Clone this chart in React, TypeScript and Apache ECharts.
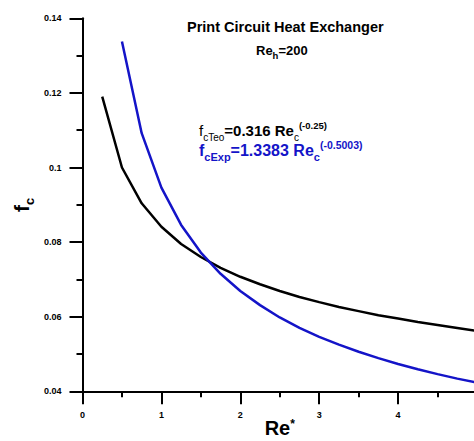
import React, { useEffect, useRef } from "react";
import * as echarts from "echarts";

const theoX = [0.25, 0.5, 0.75, 1, 1.25, 1.5, 1.75, 2, 2.25, 2.5, 2.75, 3, 3.25, 3.5, 3.75, 4, 4.25, 4.5, 4.75, 5];
const theoY = [0.119, 0.1, 0.0904, 0.0841, 0.0795, 0.076, 0.0731, 0.0707, 0.0687, 0.0669, 0.0653, 0.0639, 0.0626, 0.0615, 0.0604, 0.0595, 0.0586, 0.0578, 0.057, 0.0562];
const expX = [0.5, 0.75, 1, 1.25, 1.5, 1.75, 2, 2.25, 2.5, 2.75, 3, 3.25, 3.5, 3.75, 4, 4.25, 4.5, 4.75, 5];
const expY = [0.1338, 0.1092, 0.0946, 0.0846, 0.0772, 0.0715, 0.0669, 0.0631, 0.0598, 0.057, 0.0546, 0.0525, 0.0506, 0.0489, 0.0473, 0.0459, 0.0446, 0.0434, 0.0423];

const FONT = "Liberation Sans, Arial, sans-serif";
const BLUE = "#1414c8";

export default function App() {
  const ref = useRef<HTMLDivElement>(null);
  useEffect(() => {
    document.body.style.margin = "0";
    const chart = echarts.init(ref.current!, null, { renderer: "svg" });
    const mk = () => ({
      axisLine: { show: true, onZero: false, lineStyle: { color: "#000", width: 2 } },
      axisTick: { show: true, length: 13, lineStyle: { color: "#000", width: 2 } },
      minorTick: { show: true, splitNumber: 2, length: 6, lineStyle: { color: "#000", width: 2 } },
      splitLine: { show: false },
      minorSplitLine: { show: false },
    });
    const t = (fs: number, fill: string, bold: boolean, extra: any = {}) => ({
      fontSize: fs, fill, color: fill, fontWeight: bold ? "bold" : "normal", fontFamily: FONT, verticalAlign: "bottom", ...extra,
    });
    chart.setOption({
      animation: false,
      textStyle: { fontFamily: FONT },
      title: [
        {
          text: "Print Circuit Heat Exchanger",
          left: 187,
          top: 19.5,
          padding: 0,
          textStyle: { fontSize: 14.5, fontWeight: "bold", color: "#000", fontFamily: FONT },
        },
        {
          text: "{a|Re}{s|h}{a|=200}",
          left: 256,
          top: 44,
          padding: 0,
          textStyle: {
            rich: { a: t(13, "#000", true), s: t(9.5, "#000", true, { padding: [0, 0, -3, 0] }) },
          },
        },
        {
          text: "{f|f}{s|cTeo}{a|=0.316 Re}{s|c}{p|(-0.25)}",
          left: 199,
          top: 120,
          padding: 0,
          textStyle: {
            rich: {
              f: t(15, "#000", false),
              a: t(15, "#000", true),
              s: t(10, "#000", false, { padding: [0, 0, -4, 0] }),
              p: t(9.5, "#000", true, { padding: [0, 0, 8, 0] }),
            },
          },
        },
        {
          text: "{a|f}{s|cExp}{a|=1.3383 Re}{s|c}{p|(-0.5003)}",
          left: 199,
          top: 139,
          padding: 0,
          textStyle: {
            rich: {
              a: t(16, BLUE, true),
              s: t(11, BLUE, true, { padding: [0, 0, -4, 0] }),
              p: t(10.5, BLUE, true, { padding: [0, 0, 8, 0] }),
            },
          },
        },
      ],
      grid: { left: 82.5, right: -3, top: 18.3, bottom: 49.7, outerBoundsMode: "none" },
      xAxis: {
        type: "value",
        min: 0,
        max: 5,
        interval: 1,
        ...mk(),
        name: "{a|Re}{p|*}",
        nameLocation: "middle",
        nameGap: 27,
        nameMoveOverlap: false,
        nameTextStyle: {
          rich: { a: t(20, "#000", true), p: t(12, "#000", true, { padding: [0, 0, 8, 0] }) },
        },
        axisLabel: { margin: 19, fontSize: 9, fontWeight: "bold", color: "#000", showMaxLabel: false },
      },
      yAxis: {
        type: "value",
        min: 0.04,
        max: 0.14,
        interval: 0.02,
        ...mk(),
        name: "{a|f}{s|c}",
        nameLocation: "middle",
        nameRotate: 90,
        nameGap: 51,
        nameMoveOverlap: false,
        nameTextStyle: {
          rich: { a: t(21, "#000", true), s: t(13, "#000", true, { padding: [0, 0, -4, 0] }) },
        },
        axisLabel: { margin: 21, fontSize: 9, fontWeight: "bold", color: "#000" },
      },
      series: [
        {
          type: "line",
          data: theoX.map((x, i) => [x, theoY[i]]),
          showSymbol: false,
          lineStyle: { color: "#000", width: 2.5 },
          itemStyle: { color: "#000" },
        },
        {
          type: "line",
          data: expX.map((x, i) => [x, expY[i]]),
          showSymbol: false,
          lineStyle: { color: BLUE, width: 2.5 },
          itemStyle: { color: BLUE },
        },
      ],
    });
    return () => chart.dispose();
  }, []);
  return <div ref={ref} style={{ width: 474, height: 441, background: "#fff" }} />;
}
